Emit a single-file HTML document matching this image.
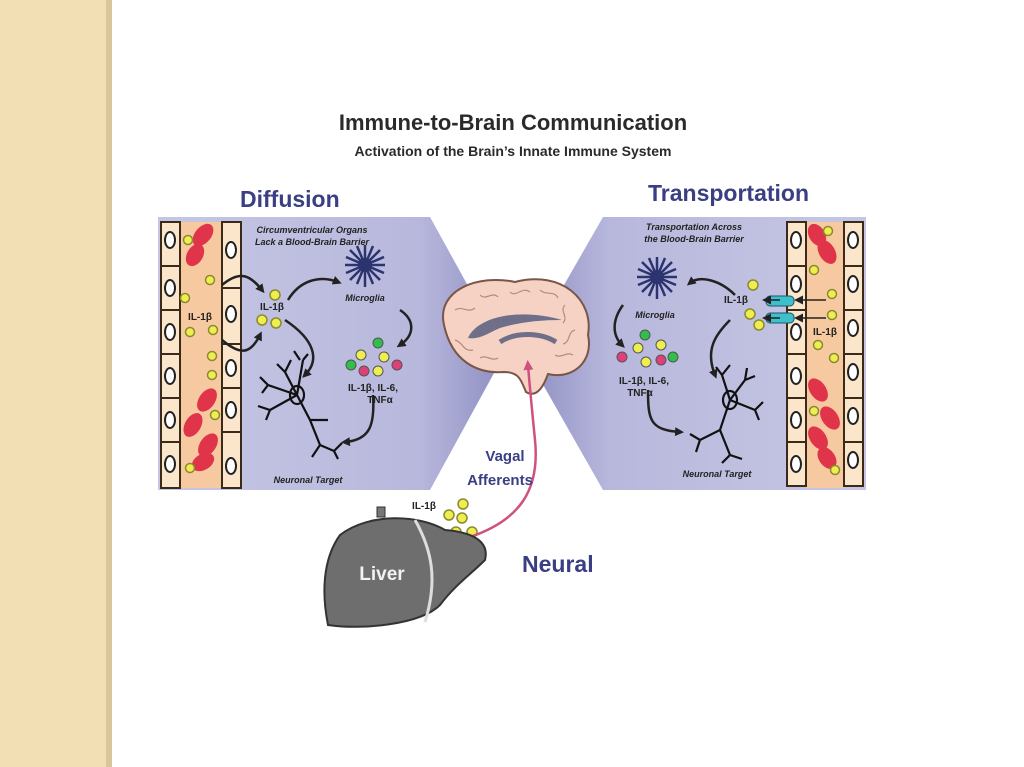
<!DOCTYPE html>
<html><head><meta charset="utf-8"><style>
html,body{margin:0;padding:0;width:1024px;height:767px;overflow:hidden;background:#fff}
.strip{position:absolute;left:0;top:0;width:106px;height:767px;background:#f2dfb4}
.edge{position:absolute;left:106px;top:0;width:6px;height:767px;background:#d9c79c}
svg{position:absolute;left:0;top:0}
text{font-family:"Liberation Sans",sans-serif}
</style></head><body>
<div class="strip"></div><div class="edge"></div>
<svg width="1024" height="767" viewBox="0 0 1024 767">
<defs>
<linearGradient id="gl" x1="0" x2="1" y1="0" y2="0"><stop offset="0" stop-color="#c6c6e4"/><stop offset="0.75" stop-color="#b8b8dd"/><stop offset="1" stop-color="#8e8ec2"/></linearGradient>
<linearGradient id="gr" x1="1" x2="0" y1="0" y2="0"><stop offset="0" stop-color="#c6c6e4"/><stop offset="0.75" stop-color="#b8b8dd"/><stop offset="1" stop-color="#8e8ec2"/></linearGradient>
<marker id="ah" markerUnits="userSpaceOnUse" markerWidth="9" markerHeight="9" refX="5" refY="4.5" orient="auto"><path d="M0,0 L9,4.5 L0,9 z" fill="#222"/></marker>
<marker id="ap" markerUnits="userSpaceOnUse" markerWidth="10" markerHeight="10" refX="5" refY="5" orient="auto"><path d="M0,0 L10,5 L0,10 z" fill="#d05080"/></marker>
</defs>
<text x="513" y="130" text-anchor="middle" font-size="22" font-weight="bold" fill="#2a2a2a">Immune-to-Brain Communication</text>
<text x="513" y="156" text-anchor="middle" font-size="14" font-weight="bold" fill="#2a2a2a">Activation of the Brain’s Innate Immune System</text>
<text x="240" y="207" font-size="23" font-weight="bold" fill="#3a3f84">Diffusion</text>
<text x="648" y="201" font-size="23" font-weight="bold" fill="#3a3f84">Transportation</text>

<polygon points="158,217 430,217 505,353 430,490 158,490" fill="url(#gl)"/>
<polygon points="866,217 603,217 525,353 603,490 866,490" fill="url(#gr)"/>

<!-- left vessel -->
<g stroke="#3a2a1a" stroke-width="2">
<rect x="180" y="222" width="42" height="266" fill="#f7c9a0" stroke="none"/>
<rect x="161" y="222" width="19" height="44" fill="#fbe6cc"/><rect x="161" y="266" width="19" height="44" fill="#fbe6cc"/><rect x="161" y="310" width="19" height="44" fill="#fbe6cc"/><rect x="161" y="354" width="19" height="44" fill="#fbe6cc"/><rect x="161" y="398" width="19" height="44" fill="#fbe6cc"/><rect x="161" y="442" width="19" height="46" fill="#fbe6cc"/>
<rect x="222" y="222" width="19" height="66" fill="#fbe6cc"/><rect x="222" y="288" width="19" height="56" fill="#fbe6cc"/><rect x="222" y="344" width="19" height="44" fill="#fbe6cc"/><rect x="222" y="388" width="19" height="44" fill="#fbe6cc"/><rect x="222" y="432" width="19" height="56" fill="#fbe6cc"/>
</g>
<g fill="#fff" stroke="#222" stroke-width="2">
<ellipse cx="170" cy="240" rx="5" ry="8"/><ellipse cx="170" cy="288" rx="5" ry="8"/><ellipse cx="170" cy="332" rx="5" ry="8"/><ellipse cx="170" cy="376" rx="5" ry="8"/><ellipse cx="170" cy="420" rx="5" ry="8"/><ellipse cx="170" cy="464" rx="5" ry="8"/>
<ellipse cx="231" cy="250" rx="5" ry="8"/><ellipse cx="231" cy="314" rx="5" ry="8"/><ellipse cx="231" cy="368" rx="5" ry="8"/><ellipse cx="231" cy="410" rx="5" ry="8"/><ellipse cx="231" cy="466" rx="5" ry="8"/>
</g>
<!-- right vessel -->
<g stroke="#3a2a1a" stroke-width="2">
<rect x="806" y="222" width="38" height="266" fill="#f7c9a0" stroke="none"/>
<rect x="787" y="222" width="19" height="44" fill="#fbe6cc"/><rect x="787" y="266" width="19" height="44" fill="#fbe6cc"/><rect x="787" y="310" width="19" height="44" fill="#fbe6cc"/><rect x="787" y="354" width="19" height="44" fill="#fbe6cc"/><rect x="787" y="398" width="19" height="44" fill="#fbe6cc"/><rect x="787" y="442" width="19" height="44" fill="#fbe6cc"/>
<rect x="844" y="222" width="19" height="44" fill="#fbe6cc"/><rect x="844" y="266" width="19" height="44" fill="#fbe6cc"/><rect x="844" y="310" width="19" height="44" fill="#fbe6cc"/><rect x="844" y="354" width="19" height="44" fill="#fbe6cc"/><rect x="844" y="398" width="19" height="44" fill="#fbe6cc"/><rect x="844" y="442" width="19" height="44" fill="#fbe6cc"/>
</g>
<g fill="#fff" stroke="#222" stroke-width="2">
<ellipse cx="796" cy="240" rx="5" ry="8"/><ellipse cx="796" cy="284" rx="5" ry="8"/><ellipse cx="796" cy="332" rx="5" ry="8"/><ellipse cx="796" cy="376" rx="5" ry="8"/><ellipse cx="796" cy="420" rx="5" ry="8"/><ellipse cx="796" cy="464" rx="5" ry="8"/>
<ellipse cx="853" cy="240" rx="5" ry="8"/><ellipse cx="853" cy="284" rx="5" ry="8"/><ellipse cx="853" cy="328" rx="5" ry="8"/><ellipse cx="853" cy="372" rx="5" ry="8"/><ellipse cx="853" cy="416" rx="5" ry="8"/><ellipse cx="853" cy="460" rx="5" ry="8"/>
</g>
<!-- RBCs -->
<g fill="#e0344a">
<ellipse cx="203" cy="235" rx="8" ry="13" transform="rotate(40 203 235)"/><ellipse cx="195" cy="255" rx="8" ry="12" transform="rotate(30 195 255)"/>
<ellipse cx="207" cy="400" rx="8" ry="13" transform="rotate(35 207 400)"/><ellipse cx="193" cy="425" rx="8" ry="13" transform="rotate(30 193 425)"/><ellipse cx="208" cy="445" rx="8" ry="13" transform="rotate(35 208 445)"/><ellipse cx="203" cy="462" rx="8" ry="12" transform="rotate(60 203 462)"/>
<ellipse cx="817" cy="235" rx="8" ry="12" transform="rotate(-30 817 235)"/><ellipse cx="827" cy="252" rx="8" ry="13" transform="rotate(-30 827 252)"/>
<ellipse cx="818" cy="390" rx="8" ry="13" transform="rotate(-35 818 390)"/><ellipse cx="830" cy="418" rx="8" ry="13" transform="rotate(-35 830 418)"/><ellipse cx="818" cy="438" rx="8" ry="13" transform="rotate(-35 818 438)"/><ellipse cx="827" cy="458" rx="8" ry="12" transform="rotate(-35 827 458)"/>
</g>
<!-- yellow dots -->
<g fill="#eeee50" stroke="#8a8a30" stroke-width="1.5">
<circle cx="188" cy="240" r="4.5"/><circle cx="210" cy="280" r="4.5"/><circle cx="185" cy="298" r="4.5"/><circle cx="213" cy="330" r="4.5"/><circle cx="190" cy="332" r="4.5"/><circle cx="212" cy="356" r="4.5"/><circle cx="212" cy="375" r="4.5"/><circle cx="215" cy="415" r="4.5"/><circle cx="190" cy="468" r="4.5"/>
<circle cx="275" cy="295" r="5"/><circle cx="262" cy="320" r="5"/><circle cx="276" cy="323" r="5"/>
<circle cx="828" cy="231" r="4.5"/><circle cx="814" cy="270" r="4.5"/><circle cx="832" cy="294" r="4.5"/><circle cx="832" cy="315" r="4.5"/><circle cx="818" cy="345" r="4.5"/><circle cx="834" cy="358" r="4.5"/><circle cx="814" cy="411" r="4.5"/><circle cx="835" cy="470" r="4.5"/>
<circle cx="753" cy="285" r="5"/><circle cx="750" cy="314" r="5"/><circle cx="759" cy="325" r="5"/>
<circle cx="463" cy="504" r="5"/><circle cx="449" cy="515" r="5"/><circle cx="462" cy="518" r="5"/><circle cx="456" cy="532" r="5"/><circle cx="472" cy="532" r="5"/>
</g>
<!-- cytokine clusters -->
<g stroke="#555" stroke-width="1">
<circle cx="378" cy="343" r="5" fill="#2fbf4a"/><circle cx="361" cy="355" r="5" fill="#eeee50"/><circle cx="384" cy="357" r="5" fill="#eeee50"/><circle cx="351" cy="365" r="5" fill="#2fbf4a"/><circle cx="364" cy="371" r="5" fill="#e0407a"/><circle cx="378" cy="371" r="5" fill="#eeee50"/><circle cx="397" cy="365" r="5" fill="#e0407a"/>
<circle cx="645" cy="335" r="5" fill="#2fbf4a"/><circle cx="638" cy="348" r="5" fill="#eeee50"/><circle cx="661" cy="345" r="5" fill="#eeee50"/><circle cx="622" cy="357" r="5" fill="#e0407a"/><circle cx="646" cy="362" r="5" fill="#eeee50"/><circle cx="661" cy="360" r="5" fill="#e0407a"/><circle cx="673" cy="357" r="5" fill="#2fbf4a"/>
</g>
<!-- channels -->
<g fill="#3ec0cc" stroke="#256"><rect x="766" y="296" width="28" height="10" rx="4"/><rect x="766" y="313" width="28" height="10" rx="4"/></g>
<!-- microglia -->
<g stroke="#2c3470" stroke-width="2.5" fill="none">
<path d="M365,265 l0,-20 M365,265 l15,-15 M365,265 l20,0 M365,265 l15,15 M365,265 l0,22 M365,265 l-15,15 M365,265 l-20,0 M365,265 l-15,-15 M365,265 l8,-19 M365,265 l19,-8 M365,265 l19,8 M365,265 l8,19 M365,265 l-8,19 M365,265 l-19,8 M365,265 l-19,-8 M365,265 l-8,-19"/>
<path d="M657,277 l0,-20 M657,277 l15,-15 M657,277 l20,0 M657,277 l15,15 M657,277 l0,22 M657,277 l-15,15 M657,277 l-20,0 M657,277 l-15,-15 M657,277 l8,-19 M657,277 l19,-8 M657,277 l19,8 M657,277 l8,19 M657,277 l-8,19 M657,277 l-19,8 M657,277 l-19,-8 M657,277 l-8,-19"/>
</g>
<circle cx="365" cy="265" r="7" fill="#2c3470"/><circle cx="657" cy="277" r="7" fill="#2c3470"/>
<!-- neurons -->
<g stroke="#111" stroke-width="2.2" fill="none">
<path d="M297,395 L285,372 M285,372 l-8,-8 M285,372 l6,-12 M300,360 l-6,-9 M297,395 L303,360 M303,360 l5,-6 M297,395 L268,385 l-8,-8 M268,385 l-6,8 M297,395 L270,410 l-12,-4 M270,410 l-4,10 M297,395 L310,420 L320,445 l-8,12 M320,445 l14,6 l8,-8 M334,451 l4,8 M310,420 l18,0"/>
<ellipse cx="297" cy="395" rx="7" ry="9"/>
<path d="M730,400 L722,375 l-6,-8 M722,375 l8,-10 M730,400 L745,380 l10,-4 M745,380 l2,-12 M730,400 L755,410 l8,-8 M755,410 l4,10 M730,400 L720,430 L700,440 l-10,-6 M700,440 l-4,12 M720,430 L730,455 l-8,8 M730,455 l12,4"/>
<ellipse cx="730" cy="400" rx="7" ry="9"/>
</g>
<!-- arrows -->
<g stroke="#222" stroke-width="2.5" fill="none" marker-end="url(#ah)">
<path d="M222,285 C240,270 250,275 262,290"/><path d="M222,340 C240,355 250,355 260,335"/>
<path d="M288,300 C300,280 320,275 338,282"/><path d="M285,320 C315,340 320,360 305,375"/>
<path d="M400,310 C415,320 415,335 400,345"/><path d="M373,395 C375,425 370,440 345,442"/>
<path d="M735,295 C720,280 700,275 690,283"/><path d="M730,320 C715,335 705,350 715,375"/>
<path d="M623,305 C612,320 612,335 622,345"/><path d="M648,390 C648,420 650,430 680,432"/>
<path d="M780,300 l-14,0" stroke-width="1.5"/><path d="M780,318 l-14,0" stroke-width="1.5"/>
<path d="M826,300 l-28,0" stroke-width="1.5"/><path d="M826,318 l-28,0" stroke-width="1.5"/>
</g>
<!-- labels small -->
<g font-size="9" font-weight="bold" fill="#222" font-style="italic" text-anchor="middle">
<text x="312" y="233">Circumventricular Organs</text><text x="312" y="245">Lack a Blood-Brain Barrier</text>
<text x="365" y="301">Microglia</text>
<text x="694" y="230">Transportation Across</text><text x="694" y="242">the Blood-Brain Barrier</text>
<text x="655" y="318">Microglia</text>
<text x="308" y="483">Neuronal Target</text><text x="717" y="477">Neuronal Target</text>
</g>
<g font-size="10" font-weight="bold" fill="#222" text-anchor="middle">
<text x="200" y="320">IL-1β</text><text x="272" y="310">IL-1β</text>
<text x="373" y="391">IL-1β, IL-6,</text><text x="380" y="403">TNFα</text>
<text x="644" y="384">IL-1β, IL-6,</text><text x="640" y="396">TNFα</text>
<text x="736" y="303">IL-1β</text><text x="825" y="335">IL-1β</text>
<text x="424" y="509">IL-1β</text>
</g>
<!-- brain -->
<path d="M444,325 C436,290 478,274 515,282 C562,270 594,300 588,335 C594,362 572,380 548,374 C543,388 536,398 526,392 C521,380 519,372 504,372 C478,374 452,362 444,325 Z" fill="#f6d2c4" stroke="#7a5548" stroke-width="2"/>
<g stroke="#b88a7c" stroke-width="1.2" fill="none">
<path d="M455,310 c8,-5 12,4 20,-2 M480,295 c6,6 12,-4 18,2 M510,292 c6,6 12,-6 20,0 M540,290 c6,6 14,0 18,8 M565,305 c-6,6 4,12 -2,18 M575,330 c-8,2 -4,12 -12,14 M455,340 c8,2 8,12 18,10 M480,358 c6,-4 12,4 18,0 M555,355 c6,4 12,-4 18,0"/>
</g>
<path d="M468,338 C478,316 520,308 562,320 C540,320 520,322 500,328 C490,332 480,340 468,338 Z" fill="#6f6f8a"/>
<path d="M500,342 C515,332 540,332 556,342" stroke="#6f6f8a" stroke-width="5" fill="none"/>
<!-- vagal -->
<path d="M470,537 C520,520 540,490 535,440 C532,410 530,390 528,365" stroke="#d05080" stroke-width="2.5" fill="none" marker-end="url(#ap)"/>
<text x="505" y="461" text-anchor="middle" font-size="15" font-weight="bold" fill="#3a3f84">Vagal</text>
<text x="500" y="485" text-anchor="middle" font-size="15" font-weight="bold" fill="#3a3f84">Afferents</text>
<text x="522" y="572" font-size="23" font-weight="bold" fill="#3a3f84">Neural</text>
<!-- liver -->
<rect x="377" y="507" width="8" height="10" fill="#777" stroke="#333"/>
<path d="M340,535 C370,512 420,515 445,530 C470,532 490,540 485,560 C470,575 455,585 440,605 C420,625 360,630 328,625 C322,595 322,560 340,535 Z" fill="#6e6e6e" stroke="#333" stroke-width="2"/>
<path d="M415,520 C432,550 438,580 425,622" stroke="#ddd" stroke-width="3" fill="none"/>
<text x="382" y="580" text-anchor="middle" font-size="19" font-weight="bold" fill="#f2f2f2">Liver</text>
</svg>
</body></html>
